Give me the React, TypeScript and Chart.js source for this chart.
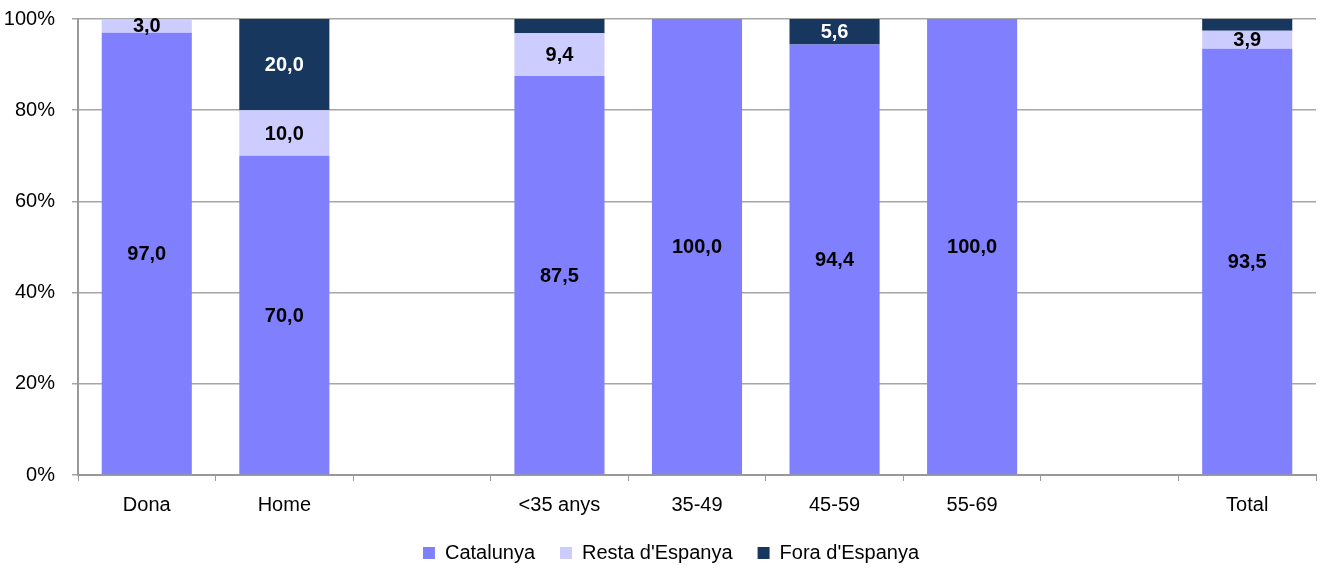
import React, { useEffect, useRef } from "react";
import { Chart, registerables } from "chart.js";

Chart.register(...registerables);

const categories = ["Dona", "Home", "", "<35 anys", "35-49", "45-59", "55-69", "", "Total"];
const catalunya = [97.0, 70.0, null, 87.5, 100.0, 94.4, 100.0, null, 93.5];
const restaEspanya = [3.0, 10.0, null, 9.4, 0, 0, 0, null, 3.9];
const foraEspanya = [0, 20.0, null, 3.1, 0, 5.6, 0, null, 2.6];
const foraShowLabel = [false, true, false, false, false, true, false, false, false];
const yTicks = [0, 20, 40, 60, 80, 100];

const FONT = "'Liberation Sans Narrow', 'Arial Narrow', 'Liberation Sans', Arial, sans-serif";

const labelPlugin = {
  id: "segLabels",
  afterLayout(chart: any) {
    const lg = chart.legend;
    if (lg) {
      lg.left += 13;
      lg.right += 13;
    }
  },
  afterDatasetsDraw(chart: any) {
    const ctx = chart.ctx;
    ctx.save();
    ctx.font = `bold 20px ${FONT}`;
    ctx.textAlign = "center";
    ctx.textBaseline = "middle";
    chart.data.datasets.forEach((ds: any, di: number) => {
      const meta = chart.getDatasetMeta(di);
      meta.data.forEach((el: any, i: number) => {
        const v = ds.data[i];
        if (v == null || v === 0) return;
        if (di === 2 && !foraShowLabel[i]) return;
        const y = (el.y + el.base) / 2;
        ctx.fillStyle = di === 2 ? "#ffffff" : "#000000";
        ctx.fillText(v.toFixed(1).replace(".", ","), el.x, y + 1);
      });
    });
    ctx.restore();
  },
};

export default function App() {
  const ref = useRef<HTMLCanvasElement>(null);
  useEffect(() => {
    document.body.style.margin = "0";
    const chart = new Chart(ref.current!, {
      type: "bar",
      data: {
        labels: categories,
        datasets: [
          { label: "Catalunya", data: catalunya, backgroundColor: "#8080FF" },
          { label: "Resta d'Espanya", data: restaEspanya, backgroundColor: "#CCCCFF" },
          { label: "Fora d'Espanya", data: foraEspanya, backgroundColor: "#17375E" },
        ],
      },
      options: {
        responsive: false,
        animation: false,
        layout: { padding: { left: 0, right: 5, top: 19, bottom: -5 } },
        datasets: { bar: { categoryPercentage: 1, barPercentage: 0.655 } },
        scales: {
          x: {
            stacked: true,
            grid: { drawOnChartArea: false, offset: true, color: "#999999", tickLength: 6 },
            border: { color: "#999999", width: 2 },
            ticks: { color: "#000", font: { family: FONT, size: 20 }, padding: 12, maxRotation: 0, autoSkip: false },
            afterFit: (s: any) => { s.height = 43; s.paddingLeft = 0; s.paddingRight = 0; },
          },
          y: {
            stacked: true,
            min: 0,
            max: 100,
            afterBuildTicks: (s: any) => { s.ticks = yTicks.map((v) => ({ value: v })); },
            grid: { color: "#A6A6A6", tickLength: 6, lineWidth: 1.5 },
            border: { color: "#999999", width: 2 },
            ticks: { color: "#000", font: { family: FONT, size: 20 }, padding: 17, callback: (v: any) => v + "%" },
            afterFit: (s: any) => { s.width = 78; s.paddingTop = 0; s.paddingBottom = 0; },
          },
        },
        plugins: {
          legend: {
            position: "bottom",
            labels: { boxWidth: 12, boxHeight: 12, color: "#000", font: { family: FONT, size: 20 }, padding: 25 },
          },
          tooltip: { enabled: false },
        },
      },
      plugins: [labelPlugin],
    });
    return () => chart.destroy();
  }, []);
  return (
    <div style={{ position: "absolute", left: 0, top: 0, width: 1321, height: 568 }}>
      <canvas ref={ref} width={1321} height={568} />
    </div>
  );
}
